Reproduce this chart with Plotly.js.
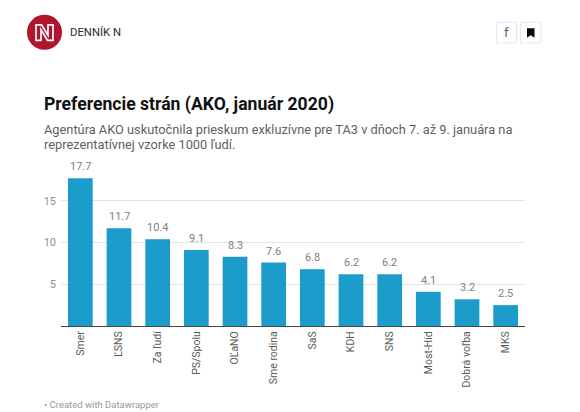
<!DOCTYPE html>
<html><head><meta charset="utf-8">
<script src="https://cdn.plot.ly/plotly-3.0.1.min.js"></script>
<style>html,body{margin:0;padding:0;background:#fff}#c{width:580px;height:412px}</style></head>
<body><div id="c"></div>
<script>
const parties = ["Smer","ĽSNS","Za ľudí","PS/Spolu","OĽaNO","Sme rodina","SaS","KDH","SNS","Most-Híd","Dobrá voľba","MKS"];
const values = [17.7,11.7,10.4,9.1,8.3,7.6,6.8,6.2,6.2,4.1,3.2,2.5];
const yTicks = [5,10,15];
const titleText = "Preferencie strán (AKO, január 2020)";
const subtitleLine1 = "Agentúra AKO uskutočnila prieskum exkluzívne pre TA3 v dňoch 7. až 9. januára na";
const subtitleLine2 = "reprezentatívnej vzorke 1000 ľudí.";
const footerText = "• Created with Datawrapper";

const W=580,H=412,L=61,R=55,T=159.4,B=86;
const px=x=>(x-L)/(W-L-R), py=y=>1-(y-T)/(H-T-B);
const note=(x,y,text,font,extra)=>Object.assign({xref:'paper',yref:'paper',x:px(x),y:py(y),text,font,showarrow:false,xanchor:'left',yanchor:'middle',align:'left',borderpad:0,borderwidth:0},extra||{});
const box=(x0,y0,x1,y1,o)=>Object.assign({type:'rect',xref:'paper',yref:'paper',x0:px(x0),x1:px(x1),y0:py(y0),y1:py(y1)},o);
const poly=(pts,o)=>Object.assign({type:'path',xref:'paper',yref:'paper',path:'M'+pts.map(p=>px(p[0])+','+py(p[1])).join('L')+'Z'},o);

const shapes=[
 Object.assign(box(27,15.5,62,50.5,{fillcolor:'#b0142f',line:{width:0}}),{type:'circle'}),
 poly([[36,25.5],[41.5,25.5],[48,36],[48,25.5],[53,25.5],[53,41],[47.5,41],[41,30.5],[41,41],[36,41]],{fillcolor:'rgba(0,0,0,0)',line:{color:'#fff',width:1.7}}),
 box(496.5,23,516.5,43.5,{fillcolor:'#fff',line:{color:'#e6e8ef',width:1}}),
 box(520.5,23,541,43.5,{fillcolor:'#fff',line:{color:'#e6e8ef',width:1}}),
 poly([[527,29],[534.5,29],[534.5,38.5],[530.7,36],[527,38.5]],{fillcolor:'#0a0a0a',line:{width:0}})
];
const annotations=[
 note(69.5,33,"DENNÍK N",{family:'Roboto',size:11.3,color:'#2a2a2a'}),
 note(506.5,33.5,"f",{family:'Roboto',size:13,color:'#4d5b8c'},{xanchor:'center'}),
 note(43.5,105.5,'<b>'+titleText+'</b>',{family:'Roboto',size:17.6,color:'#111'}),
 note(43.5,130,subtitleLine1,{family:'Roboto',size:12.8,color:'#5f5f5f'}),
 note(43.5,145,subtitleLine2,{family:'Roboto',size:12.8,color:'#5f5f5f'}),
 note(43.5,404,footerText,{family:'Roboto',size:9.5,color:'#9a9a9a'})
];
parties.forEach((p,i)=>annotations.push({x:p,y:values[i],xref:'x',yref:'y',text:values[i].toFixed(1),showarrow:false,yanchor:'bottom',yshift:3,font:{family:'Roboto',size:11,color:'#808080'}}));

Plotly.newPlot('c',[{type:'bar',x:parties,y:values,marker:{color:'#1b9ccb'},hoverinfo:'x+y'}],{
 width:W,height:H,margin:{l:L,r:R,t:T,b:B,pad:0},paper_bgcolor:'#fff',plot_bgcolor:'#fff',
 bargap:0.36,showlegend:false,shapes,annotations,
 xaxis:{type:'category',range:[-0.5,11.5],tickangle:-90,ticks:'',showgrid:false,showline:true,linecolor:'#444',linewidth:1,ticklabelstandoff:0,tickfont:{family:'Roboto',size:10.5,color:'#5a5a5a'},automargin:false},
 yaxis:{range:[0,20],tickvals:yTicks,ticktext:yTicks.map(String),gridcolor:'#e4e4e4',gridwidth:1,zeroline:false,showline:false,ticks:'',ticklabelstandoff:4,tickfont:{family:'Roboto',size:11,color:'#909090'},automargin:false}
},{displayModeBar:false,staticPlot:true});
</script></body></html>
